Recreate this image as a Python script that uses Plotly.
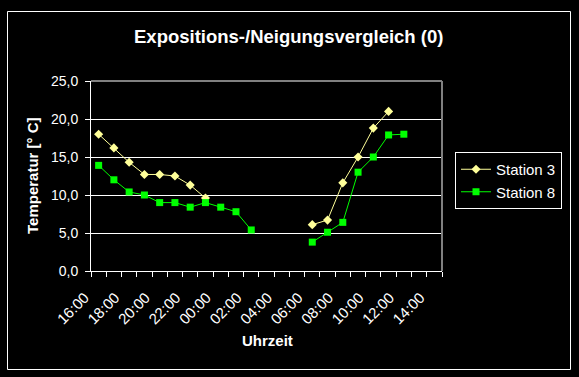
import plotly.graph_objects as go

hours = ["16:00", "17:00", "18:00", "19:00", "20:00", "21:00", "22:00", "23:00",
         "00:00", "01:00", "02:00", "03:00", "04:00", "05:00", "06:00", "07:00",
         "08:00", "09:00", "10:00", "11:00", "12:00", "13:00", "14:00"]
station3 = [18.0, 16.2, 14.3, 12.7, 12.7, 12.5, 11.3, 9.6,
            None, None, None, None, None, None,
            6.1, 6.7, 11.6, 15.0, 18.8, 21.0, None, None, None]
station8 = [13.9, 12.0, 10.4, 10.0, 9.0, 9.0, 8.4, 9.0, 8.4, 7.8, 5.4,
            None, None, None,
            3.8, 5.1, 6.4, 13.0, 15.0, 17.9, 18.0, None, None]
ytick_vals = [0, 5, 10, 15, 20, 25]
ytick_text = ["0,0", "5,0", "10,0", "15,0", "20,0", "25,0"]

xidx = list(range(len(hours)))
label_idx = xidx[::2]
label_text = [hours[i] for i in label_idx]

FONT = "Liberation Sans, Arial, sans-serif"

fig = go.Figure()
fig.add_trace(go.Scatter(
    x=xidx, y=station3, name="Station 3", mode="lines+markers",
    line=dict(color="#FFFF99", width=1),
    marker=dict(symbol="diamond", size=7, color="#FFFF99"),
    connectgaps=False))
fig.add_trace(go.Scatter(
    x=xidx, y=station8, name="Station 8", mode="lines+markers",
    line=dict(color="#00FF00", width=1),
    marker=dict(symbol="square", size=7, color="#00FF00"),
    connectgaps=False))

L, R, T, B = 91, 137, 81, 106
W, H = 579, 377
pw, ph = W - L - R, H - T - B

def px(xp):
    return (xp - L) / pw

def py(yp):
    return (H - B - yp) / ph

fig.update_layout(
    width=W, height=H,
    margin=dict(l=L, r=R, t=T, b=B),
    paper_bgcolor="black", plot_bgcolor="black",
    font=dict(family=FONT, color="white", size=14),
    showlegend=True,
    legend=dict(x=px(455), y=py(152), xanchor="left", yanchor="top",
                bgcolor="black", bordercolor="white", borderwidth=1,
                font=dict(size=15, color="white", family=FONT)),
    xaxis=dict(range=[-0.5, 22.5], tickmode="array", tickvals=label_idx,
               ticktext=label_text, tickangle=-45, ticks="",
               tickfont=dict(size=15, color="white"),
               showgrid=False, zeroline=False,
               showline=True, linecolor="white", linewidth=1,
               ticklabelstandoff=11, ticklabelshift=-14,
               minor=dict(tick0=-0.5, dtick=1, ticks="outside", ticklen=5,
                          tickcolor="white", tickwidth=1, showgrid=False)),
    yaxis=dict(range=[0, 25], tickmode="array", tickvals=ytick_vals,
               ticktext=ytick_text, ticks="outside", ticklen=5,
               tickcolor="white", tickfont=dict(size=14, color="white"),
               ticklabelstandoff=4,
               showgrid=True, gridcolor="white", gridwidth=1,
               zeroline=False, showline=True, linecolor="white", linewidth=1),
    annotations=[
        dict(text="<b>Expositions-/Neigungsvergleich (0)</b>", xref="paper", yref="paper",
             x=px(288), y=py(36.5), xanchor="center", yanchor="middle",
             showarrow=False, font=dict(size=18.5, color="white", family=FONT)),
        dict(text="<b>Temperatur [° C]</b>", xref="paper", yref="paper",
             x=px(32), y=py(176), xanchor="center", yanchor="middle", textangle=-90,
             showarrow=False, font=dict(size=15, color="white", family=FONT)),
        dict(text="<b>Uhrzeit</b>", xref="paper", yref="paper",
             x=px(267), y=py(340.5), xanchor="center", yanchor="middle",
             showarrow=False, font=dict(size=15, color="white", family=FONT)),
    ],
    shapes=[
        dict(type="line", xref="paper", yref="paper", x0=0, x1=1, y0=1, y1=1,
             line=dict(color="#808080", width=2), layer="above"),
        dict(type="line", xref="paper", yref="paper", x0=1, x1=1, y0=0, y1=1,
             line=dict(color="#808080", width=2), layer="above"),
        dict(type="rect", xref="paper", yref="paper",
             x0=px(7.5), x1=px(570.5), y0=py(369.5), y1=py(11.5),
             line=dict(color="white", width=1), layer="above"),
    ],
)

fig.write_html("out.html", config={"displayModeBar": False},
               post_script="document.body.style.margin='0';document.body.style.background='black';")
